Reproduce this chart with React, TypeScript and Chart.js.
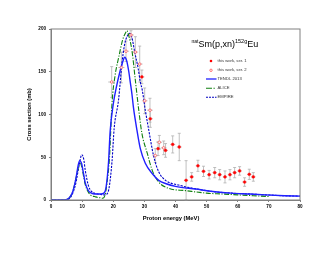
import React, { useEffect, useRef } from "react";
import { Chart, registerables } from "chart.js";

Chart.register(...registerables);

// TENDL 2013 (solid)
const tendlE = [0, 4, 5, 6, 7, 8, 8.7, 9.2, 9.8, 10.5, 11, 12, 13, 14, 15, 16, 17, 17.7, 18.5, 19, 20, 21, 22, 23, 23.7, 24.3, 25, 25.5, 26, 26.5, 27.6, 28.7, 30.3, 32.5, 34.6, 37, 40, 46.5, 52, 58, 64, 69, 75, 80];
const tendlXS = [0, 0, 0.5, 3, 10, 25, 40, 46, 43, 30, 20, 11, 8, 7, 7, 7, 8, 15, 45, 80, 112, 132, 148, 161, 167, 163, 150, 137, 124, 108, 82, 60, 43, 31, 23, 19, 16, 12.8, 10, 8, 7, 6, 5, 4.5];

// ALICE (dash-dot)
const aliceE = [0, 4, 5, 6, 7, 8, 8.8, 9.4, 10, 10.5, 11, 12, 13, 14, 15, 16, 16.7, 17.3, 18, 18.8, 19.6, 20.6, 21.7, 23, 24, 24.4, 25, 26, 27.1, 28.2, 29.2, 30.9, 32.5, 34.6, 37.8, 43.2, 50, 55, 60, 65, 70];
const aliceXS = [0, 0, 0.5, 3, 10, 25, 38, 43, 37, 27, 18, 9, 5, 4, 3, 2.5, 2, 5, 20, 50, 113, 146, 166, 187, 196, 198, 192, 175, 140, 105, 78, 55, 35, 21, 13.6, 11, 8, 7, 6, 5, 4];

// EMPIRE (dashed)
const empireE = [0, 4, 5, 6, 7, 8, 9, 9.9, 10.5, 11, 12, 13, 14, 15, 16, 17, 18, 18.7, 19.6, 20.3, 21.7, 22.8, 23.6, 24.4, 25.3, 26, 26.9, 28, 28.7, 29.3, 30.3, 31.4, 33, 34.6, 36.8, 41, 46.5, 52, 58, 64, 69, 75, 80];
const empireXS = [0, 0, 0.5, 2, 8, 20, 40, 53, 48, 35, 17, 10, 8, 7, 6.5, 6, 7, 15, 45, 84, 117, 160, 181, 191, 195, 190, 173, 154, 138, 129, 105, 82, 51, 33, 23, 17.5, 13, 10, 8, 7, 6, 5, 4.5];

// this work, ser. 1 (filled)
const ser1E = [29.2, 31.9, 34.4, 36.8, 39.1, 41.2, 43.4, 45.2, 47.2, 49.0, 50.8, 52.6, 54.2, 55.9, 57.5, 59.0, 60.6, 62.2, 63.7, 65.0];
const ser1XS = [144, 95, 60, 58, 65, 62, 23, 27, 40, 33.5, 29.6, 32, 29.6, 27, 29.6, 32, 34, 21, 30, 27];
const ser1Err = [8, 10, 8, 8, 10, 16, 23, 5, 6.5, 6, 5, 6, 6, 7, 6, 6, 5, 5, 6, 5];
const ser1EErr = [0.8, 0.8, 0.8, 0.8, 0.8, 0.8, 0.7, 0.7, 0.7, 0.7, 0.7, 0.7, 0.7, 0.7, 0.7, 0.7, 0.7, 0.7, 0.7, 0.7];

// this work, ser. 2 (open)
const ser2E = [19.5, 22.6, 24.1, 25.7, 27.1, 28.5, 30.1, 31.8, 33.5, 34.8, 36.2];
const ser2XS = [138, 155, 174, 193, 173, 159, 116, 105, 52, 67.5, 61];
const ser2Err = [18, 18, 12, 5, 18, 21, 15, 14, 8, 8, 8];
const ser2EErr = [1.1, 1.0, 1.0, 0.9, 0.9, 0.9, 0.9, 0.9, 0.9, 0.9, 0.9];

const xTicks = [0, 10, 20, 30, 40, 50, 60, 70, 80];
const yTicks = [0, 50, 100, 150, 200];

const toPts = (xs: number[], ys: number[]) => xs.map((x, i) => ({ x, y: ys[i] }));

const FONT = "'Liberation Sans', Arial, sans-serif";

const errorBars = {
  id: "errorBars",
  beforeDatasetsDraw(chart: any) {
    const { ctx, scales } = chart;
    const xs = scales.x;
    const ys = scales.y;
    ctx.save();
    ctx.strokeStyle = "#b0b0b0";
    ctx.lineWidth = 0.8;
    const draw = (E: number[], S: number[], err: number[], eerr: number[]) => {
      E.forEach((e, i) => {
        const px = xs.getPixelForValue(e);
        const py = ys.getPixelForValue(S[i]);
        const top = ys.getPixelForValue(S[i] + err[i]);
        const bot = ys.getPixelForValue(Math.max(0, S[i] - err[i]));
        const l = xs.getPixelForValue(e - eerr[i]);
        const r = xs.getPixelForValue(e + eerr[i]);
        ctx.beginPath();
        ctx.moveTo(px, top);
        ctx.lineTo(px, bot);
        ctx.moveTo(px - 1.5, top);
        ctx.lineTo(px + 1.5, top);
        ctx.moveTo(px - 1.5, bot);
        ctx.lineTo(px + 1.5, bot);
        ctx.moveTo(l, py);
        ctx.lineTo(r, py);
        ctx.stroke();
      });
    };
    draw(ser2E, ser2XS, ser2Err, ser2EErr);
    draw(ser1E, ser1XS, ser1Err, ser1EErr);
    ctx.restore();
  },
};

const decor = {
  id: "decor",
  afterDraw(chart: any) {
    const { ctx, chartArea } = chart;
    const { left, right, top, bottom } = chartArea;
    ctx.save();
    // frame
    ctx.strokeStyle = "#808080";
    ctx.lineWidth = 1;
    ctx.strokeRect(left, top, right - left, bottom - top);

    // axis titles
    ctx.fillStyle = "#000";
    ctx.font = `bold 5.8px ${FONT}`;
    ctx.textAlign = "center";
    ctx.textBaseline = "middle";
    ctx.fillText("Proton energy (MeV)", 171, 218);
    ctx.save();
    ctx.translate(29.5, (top + bottom) / 2);
    ctx.rotate(-Math.PI / 2);
    ctx.fillText("Cross section (mb)", 0, 0);
    ctx.restore();

    // title with superscripts
    ctx.textAlign = "left";
    ctx.textBaseline = "alphabetic";
    let x = 191.5;
    const base = 46.5;
    const parts: [string, number, number][] = [
      ["nat", 5, -4],
      ["Sm(p,xn)", 9, 0],
      ["152g", 5.5, -4],
      ["Eu", 9, 0],
    ];
    parts.forEach(([t, s, dy]) => {
      ctx.font = `${s}px ${FONT}`;
      ctx.fillText(t, x, base + dy);
      x += ctx.measureText(t).width;
    });

    // legend
    const mx = 211;
    const tx = 217.5;
    const rows = [61, 70.3, 79, 88.3, 97.3];
    const labels = ["this work, ser. 1", "this work, ser. 2", "TENDL 2013", "ALICE", "EMPIRE"];
    ctx.font = `4.2px ${FONT}`;
    ctx.fillStyle = "#333";
    ctx.textBaseline = "middle";
    labels.forEach((lab, i) => ctx.fillText(lab, tx, rows[i]));

    ctx.fillStyle = "#ff0000";
    ctx.beginPath();
    ctx.arc(mx, rows[0], 1.3, 0, Math.PI * 2);
    ctx.fill();
    ctx.strokeStyle = "#ff5050";
    ctx.lineWidth = 0.8;
    ctx.beginPath();
    ctx.arc(mx, rows[1], 1.2, 0, Math.PI * 2);
    ctx.stroke();

    ctx.lineWidth = 1.3;
    ctx.strokeStyle = "#2020ff";
    ctx.beginPath();
    ctx.moveTo(206, rows[2]);
    ctx.lineTo(216.5, rows[2]);
    ctx.stroke();

    ctx.strokeStyle = "#108010";
    ctx.lineWidth = 1.1;
    ctx.beginPath();
    ctx.moveTo(206, rows[3]);
    ctx.lineTo(212, rows[3]);
    ctx.moveTo(213.5, rows[3]);
    ctx.lineTo(214.8, rows[3]);
    ctx.stroke();

    ctx.strokeStyle = "#0000c0";
    ctx.setLineDash([2, 1]);
    ctx.beginPath();
    ctx.moveTo(206, rows[4]);
    ctx.lineTo(216.5, rows[4]);
    ctx.stroke();
    ctx.setLineDash([]);
    ctx.restore();
  },
};

export default function App() {
  const ref = useRef<HTMLCanvasElement>(null);
  useEffect(() => {
    document.body.style.margin = "0";
    const canvas = ref.current;
    if (!canvas) return;
    const tickFont = { family: FONT, size: 4.6, weight: "bold" as const };
    const chart = new Chart(canvas, {
      type: "scatter",
      data: {
        datasets: [
          {
            label: "this work, ser. 1",
            data: toPts(ser1E, ser1XS),
            pointRadius: 1.4,
            pointBackgroundColor: "#ff0000",
            pointBorderColor: "#ff2020",
            pointBorderWidth: 0.5,
            showLine: false,
          },
          {
            label: "this work, ser. 2",
            data: toPts(ser2E, ser2XS),
            pointRadius: 1.3,
            pointBackgroundColor: "rgba(255,255,255,0.9)",
            pointBorderColor: "#ff5a5a",
            pointBorderWidth: 0.8,
            showLine: false,
          },
          {
            label: "TENDL 2013",
            data: toPts(tendlE, tendlXS),
            showLine: true,
            pointRadius: 0,
            borderColor: "#2020ff",
            borderWidth: 1.4,
            cubicInterpolationMode: "monotone",
          },
          {
            label: "ALICE",
            data: toPts(aliceE, aliceXS),
            showLine: true,
            pointRadius: 0,
            borderColor: "#108010",
            borderWidth: 1.1,
            borderDash: [5, 1.5, 1.2, 1.5],
            cubicInterpolationMode: "monotone",
          },
          {
            label: "EMPIRE",
            data: toPts(empireE, empireXS),
            showLine: true,
            pointRadius: 0,
            borderColor: "#0000c8",
            borderWidth: 1.1,
            borderDash: [2.2, 1.2],
            cubicInterpolationMode: "monotone",
          },
        ],
      },
      options: {
        responsive: false,
        animation: false,
        layout: { padding: { left: 0, top: 29, right: 30, bottom: 0 } },
        plugins: { legend: { display: false }, tooltip: { enabled: false } },
        scales: {
          x: {
            type: "linear",
            min: 0,
            max: 80,
            afterFit: (s: any) => {
              s.height = 55;
            },
            afterBuildTicks: (s: any) => {
              s.ticks = xTicks.map((v) => ({ value: v }));
            },
            grid: { display: true, drawOnChartArea: false, tickLength: 2, color: "#808080" },
            border: { color: "#808080" },
            ticks: { font: tickFont, color: "#000", padding: 1.5, maxRotation: 0 },
          },
          y: {
            type: "linear",
            min: 0,
            max: 200,
            afterFit: (s: any) => {
              s.width = 51;
            },
            afterBuildTicks: (s: any) => {
              s.ticks = yTicks.map((v) => ({ value: v }));
            },
            grid: { display: true, drawOnChartArea: false, tickLength: 2, color: "#808080" },
            border: { color: "#808080" },
            ticks: { font: tickFont, color: "#000", padding: 3 },
          },
        },
      },
      plugins: [errorBars, decor],
    });
    return () => chart.destroy();
  }, []);
  return (
    <div style={{ width: 330, height: 255, background: "#fff" }}>
      <canvas ref={ref} width={330} height={255} />
    </div>
  );
}
